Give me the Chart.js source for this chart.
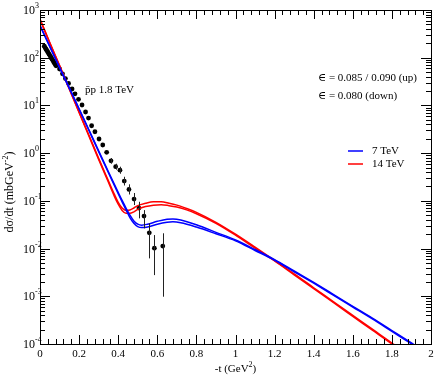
<!DOCTYPE html>
<html>
<head>
<meta charset="utf-8">
<script src="https://cdn.jsdelivr.net/npm/chart.js@4.4.1/dist/chart.umd.min.js"></script>
<style>
  html, body { margin: 0; padding: 0; background: #fff; }
</style>
</head>
<body>
<canvas id="chart" width="436" height="382"></canvas>
<script>
// 14 TeV curves (up: eps = 0.090, down: eps = 0.080)
const redX = [0, 0.05, 0.1, 0.15, 0.2, 0.25, 0.3, 0.35, 0.38, 0.40, 0.42, 0.44, 0.46, 0.48, 0.50, 0.54, 0.58, 0.62, 0.66, 0.70, 0.75, 0.8, 0.9, 1.0, 1.1, 1.2, 1.3, 1.4, 1.5, 1.6, 1.7, 1.8, 1.85];
const redUp = [646, 209, 69.2, 22.4, 7.24, 2.40, 0.776, 0.263, 0.138, 0.0933, 0.0708, 0.0631, 0.0646, 0.0708, 0.0794, 0.0891, 0.0955, 0.0955, 0.0891, 0.0813, 0.0692, 0.0575, 0.0355, 0.0200, 0.0107, 0.00562, 0.00295, 0.00151, 0.000776, 0.000398, 0.000204, 0.000105, 0.0000741];
const redDown = [631, 204, 67.6, 21.9, 7.08, 2.29, 0.741, 0.245, 0.126, 0.0851, 0.0631, 0.0550, 0.0550, 0.0589, 0.0661, 0.0759, 0.0813, 0.0832, 0.0794, 0.0741, 0.0646, 0.0537, 0.0339, 0.0191, 0.0102, 0.00550, 0.00282, 0.00145, 0.000741, 0.000380, 0.000195, 0.000100, 0.0000708];

// 7 TeV curves (up: eps = 0.085, down: eps = 0.080)
const blueX = [0, 0.05, 0.1, 0.15, 0.2, 0.25, 0.3, 0.35, 0.40, 0.42, 0.44, 0.46, 0.48, 0.50, 0.52, 0.55, 0.60, 0.65, 0.68, 0.72, 0.8, 0.9, 1.0, 1.1, 1.2, 1.3, 1.4, 1.5, 1.6, 1.7, 1.8, 1.9, 1.95];
const blueUp = [479, 174, 63.1, 23.4, 8.51, 3.09, 1.12, 0.407, 0.151, 0.102, 0.0708, 0.0501, 0.0380, 0.0324, 0.0309, 0.0324, 0.0372, 0.0412, 0.0417, 0.0398, 0.0316, 0.0219, 0.0151, 0.00955, 0.00589, 0.00339, 0.00195, 0.00110, 0.000617, 0.000347, 0.000191, 0.000105, 0.0000776];
const blueDown = [468, 170, 61.7, 22.9, 8.32, 3.02, 1.07, 0.389, 0.141, 0.0955, 0.0646, 0.0447, 0.0339, 0.0288, 0.0275, 0.0282, 0.0324, 0.0355, 0.0363, 0.0347, 0.0282, 0.0204, 0.0145, 0.00912, 0.00569, 0.00327, 0.00188, 0.00106, 0.000596, 0.000335, 0.000184, 0.000101, 0.0000750];

// pbar-p 1.8 TeV data
const dataX = [0.022, 0.026, 0.030, 0.034, 0.038, 0.042, 0.046, 0.050, 0.054, 0.058, 0.062, 0.066, 0.070, 0.074, 0.078, 0.082,
  0.100, 0.115, 0.130, 0.146, 0.164, 0.179, 0.197, 0.215, 0.233, 0.248, 0.264, 0.281, 0.302, 0.321, 0.341, 0.363, 0.387, 0.409,
  0.431, 0.455, 0.481, 0.506, 0.532, 0.559, 0.585, 0.628];
const dataY = [174, 163, 153, 144, 135, 127, 119, 112, 105, 98.6, 92.7, 86.9, 81.7, 76.7, 72.0, 67.6,
  58, 46, 36.5, 28.9, 22.1, 17.5, 13.4, 10.2, 7.28, 5.44, 3.75, 2.81, 1.98, 1.48, 1.04, 0.69, 0.52, 0.44,
  0.26, 0.174, 0.109, 0.0706, 0.048, 0.0214, 0.0102, 0.0113];
const errLo = [null, null, null, null, null, null, null, null, null, null, null, null, null, null, null, null,
  null, null, null, null, null, null, null, null, null, null, null, null, null, null, null, 0.60, 0.45, 0.37,
  0.21, 0.136, 0.0817, 0.043, 0.0265, 0.00623, 0.00278, 0.00098];
const errHi = [null, null, null, null, null, null, null, null, null, null, null, null, null, null, null, null,
  null, null, null, null, null, null, null, null, null, null, null, null, null, null, null, 0.79, 0.60, 0.52,
  0.32, 0.222, 0.146, 0.0957, 0.064, 0.0337, 0.0192, 0.0209];

const xTicks = [0, 0.2, 0.4, 0.6, 0.8, 1, 1.2, 1.4, 1.6, 1.8, 2];
const xTickLabels = ["0", "0.2", "0.4", "0.6", "0.8", "1", "1.2", "1.4", "1.6", "1.8", "2"];
const yDecades = [-4, -3, -2, -1, 0, 1, 2, 3];

const RED = "#ff0000";
const BLUE = "#0000ff";
const SERIF = "'Liberation Serif', 'DejaVu Serif', serif";

function pts(xs, ys) {
  return xs.map((x, i) => ({ x: x, y: ys[i] }));
}

function curve(xs, ys, color) {
  return {
    data: pts(xs, ys),
    showLine: true,
    borderColor: color,
    borderWidth: 1.5,
    pointRadius: 0,
    fill: false,
    cubicInterpolationMode: "monotone"
  };
}

// text with superscript parts: [[text, isSup], ...]
function richText(ctx, parts, x, y, align, size) {
  const supSize = Math.round(size * 0.7);
  let w = 0;
  parts.forEach(([t, sup]) => {
    ctx.font = (sup ? supSize : size) + "px " + SERIF;
    w += ctx.measureText(t).width;
  });
  let cx = align === "center" ? x - w / 2 : align === "right" ? x - w : x;
  ctx.textAlign = "left";
  ctx.textBaseline = "alphabetic";
  parts.forEach(([t, sup]) => {
    ctx.font = (sup ? supSize : size) + "px " + SERIF;
    ctx.fillText(t, cx, sup ? y - size * 0.45 : y);
    cx += ctx.measureText(t).width;
  });
}

const errorBars = {
  id: "errorBars",
  afterDatasetsDraw(chart) {
    const { ctx, scales } = chart;
    ctx.save();
    ctx.strokeStyle = "#222";
    ctx.lineWidth = 1;
    dataX.forEach((x, i) => {
      if (errLo[i] == null) return;
      const px = Math.round(scales.x.getPixelForValue(x)) + 0.5;
      const lo = Math.min(scales.y.getPixelForValue(errLo[i]), chart.chartArea.bottom);
      ctx.beginPath();
      ctx.moveTo(px, lo);
      ctx.lineTo(px, scales.y.getPixelForValue(errHi[i]));
      ctx.stroke();
    });
    ctx.restore();
  }
};

const frame = {
  id: "frame",
  afterDraw(chart) {
    const { ctx, chartArea: a, scales } = chart;
    ctx.save();
    ctx.strokeStyle = "#000";
    ctx.fillStyle = "#000";
    ctx.lineWidth = 1;

    // x ticks (inside, bottom and top)
    for (let k = 0; k <= 50; k++) {
      const v = k * 0.04;
      const px = Math.round(scales.x.getPixelForValue(v)) + 0.5;
      const len = k % 5 === 0 ? 9 : 5;
      ctx.beginPath();
      ctx.moveTo(px, a.bottom); ctx.lineTo(px, a.bottom - len);
      ctx.moveTo(px, a.top); ctx.lineTo(px, a.top + len);
      ctx.stroke();
    }
    // y ticks (inside, left and right)
    yDecades.forEach((e) => {
      for (let m = 1; m <= 9; m++) {
        if (e === 3 && m > 1) break;
        const py = Math.round(scales.y.getPixelForValue(m * Math.pow(10, e))) + 0.5;
        const len = m === 1 ? 10 : 5;
        ctx.beginPath();
        ctx.moveTo(a.left, py); ctx.lineTo(a.left + len, py);
        ctx.moveTo(a.right, py); ctx.lineTo(a.right - len, py);
        ctx.stroke();
      }
    });
    ctx.strokeRect(Math.round(a.left) + 0.5, Math.round(a.top) + 0.5, Math.round(a.right - a.left), Math.round(a.bottom - a.top));

    // x labels
    ctx.font = "11px " + SERIF;
    ctx.textAlign = "center";
    ctx.textBaseline = "alphabetic";
    xTicks.forEach((v, i) => {
      ctx.fillText(xTickLabels[i], scales.x.getPixelForValue(v), a.bottom + 13);
    });
    // y labels
    yDecades.forEach((e) => {
      const py = scales.y.getPixelForValue(Math.pow(10, e));
      ctx.font = "12px " + SERIF;
      ctx.textAlign = "right";
      ctx.fillText("10", 35, py + 4);
      ctx.font = "8px " + SERIF;
      ctx.textAlign = "left";
      ctx.fillText(String(e), 35, py - 2);
    });

    // axis titles
    richText(ctx, [["-t (GeV", false], ["2", true], [")", false]], (a.left + a.right) / 2, a.bottom + 28, "center", 11);
    ctx.save();
    ctx.translate(13, 192);
    ctx.rotate(-Math.PI / 2);
    richText(ctx, [["d\u03c3/dt (mbGeV", false], ["-2", true], [")", false]], 0, 0, "center", 12);
    ctx.restore();

    // annotations
    ctx.font = "11px " + SERIF;
    ctx.textAlign = "left";
    ctx.fillText("p\u0304p 1.8 TeV", 85, 93);
    ctx.fillText("\u2208 = 0.085 / 0.090 (up)", 318, 81);
    ctx.fillText("\u2208 = 0.080 (down)", 318, 99);

    // legend
    [["7 TeV", BLUE, 151], ["14 TeV", RED, 164]].forEach(([label, color, y]) => {
      ctx.strokeStyle = color;
      ctx.lineWidth = 1.5;
      ctx.beginPath();
      ctx.moveTo(348, y); ctx.lineTo(363, y);
      ctx.stroke();
      ctx.fillStyle = "#000";
      ctx.textBaseline = "middle";
      ctx.fillText(label, 372, y);
    });
    ctx.restore();
  }
};

new Chart(document.getElementById("chart"), {
  type: "scatter",
  data: {
    datasets: [
      curve(blueX, blueUp, BLUE),
      curve(blueX, blueDown, BLUE),
      curve(redX, redUp, RED),
      curve(redX, redDown, RED),
      {
        data: pts(dataX, dataY),
        pointRadius: 2.4,
        pointBackgroundColor: "#000",
        pointBorderWidth: 0,
        showLine: false
      }
    ]
  },
  options: {
    responsive: false,
    animation: false,
    layout: { padding: { left: 40, right: 5, top: 10, bottom: 38 } },
    scales: {
      x: { type: "linear", min: 0, max: 2, display: false },
      y: { type: "logarithmic", min: 1e-4, max: 1e3, display: false }
    },
    plugins: {
      legend: { display: false },
      tooltip: { enabled: false }
    }
  },
  plugins: [errorBars, frame]
});
</script>
</body>
</html>
